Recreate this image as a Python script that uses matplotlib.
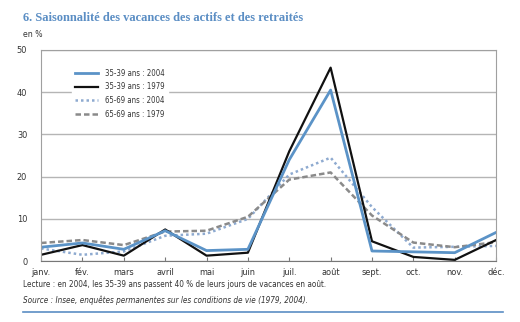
import matplotlib
matplotlib.use("Agg")
import matplotlib.pyplot as plt

plt.rcParams["font.family"] = ["Liberation Sans Narrow", "DejaVu Sans"]
plt.rcParams["font.stretch"] = "condensed"

months = ["janv.", "fév.", "mars", "avril", "mai", "juin", "juil.", "août",
          "sept.", "oct.", "nov.", "déc."]
a35_2004 = [3.3, 4.3, 2.8, 7.2, 2.5, 2.8, 24.0, 40.5, 2.4, 2.2, 2.0, 6.8]
a35_1979 = [1.5, 3.8, 1.3, 7.5, 1.3, 2.0, 26.0, 45.8, 4.7, 1.0, 0.3, 5.0]
a65_2004 = [3.0, 1.5, 2.3, 6.0, 6.5, 10.0, 20.5, 24.5, 12.8, 3.2, 3.4, 3.6]
a65_1979 = [4.3, 5.0, 3.8, 7.0, 7.2, 10.5, 19.3, 21.0, 10.8, 4.4, 3.3, 4.5]
yticks = [0, 10, 20, 30, 40, 50]

fig = plt.figure(figsize=(5.2, 3.22), dpi=100)
ax = fig.add_axes([0.079, 0.189, 0.875, 0.656])
x = range(len(months))

ax.plot(x, a65_2004, color="#8eaad0", lw=1.8, ls=(0, (1, 1.2)), label="65-69 ans : 2004")
ax.plot(x, a65_1979, color="#8a8a8a", lw=1.8, ls=(0, (2.2, 1.2)), label="65-69 ans : 1979")
ax.plot(x, a35_1979, color="#111111", lw=1.6, label="35-39 ans : 1979")
ax.plot(x, a35_2004, color="#5b93c7", lw=2.0, label="35-39 ans : 2004")

ax.set_xlim(0, 11)
ax.set_ylim(0, 50)
ax.set_xticks(list(x))
ax.set_xticklabels(months, fontsize=6.6, color="#333333")
ax.set_yticks(yticks)
ax.set_yticklabels([str(v) for v in yticks], fontsize=6.6, color="#333333")
ax.tick_params(axis="x", direction="in", length=3, color="#777777", pad=5)
ax.tick_params(axis="y", length=0, pad=10)
ax.grid(axis="y", color="#b5b5b5", lw=1)
ax.set_axisbelow(True)
for sp in ax.spines.values():
    sp.set_color("#a0a0a0")
ax.spines["bottom"].set_color("#777777")

handles, labels = ax.get_legend_handles_labels()
order = [3, 2, 0, 1]
leg = ax.legend([handles[i] for i in order], [labels[i] for i in order],
                loc="upper left", bbox_to_anchor=(0.06, 0.945), fontsize=5.6,
                frameon=True, framealpha=1, edgecolor="white", fancybox=False,
                handlelength=2.9, handletextpad=0.9, labelspacing=0.62, borderpad=0.4)
for t in leg.get_texts():
    t.set_color("#333333")

fig.text(0.044, 0.945, "6. Saisonnalité des vacances des actifs et des retraités",
         fontsize=9, fontweight="bold", color="#5b8ec4", fontstretch="normal",
         family=["Liberation Serif", "DejaVu Serif"], va="center")
fig.text(0.044, 0.893, "en %", fontsize=6.2, color="#333333", va="center")
fig.text(0.044, 0.115, "Lecture : en 2004, les 35-39 ans passent 40 % de leurs jours de vacances en août.",
         fontsize=5.9, color="#333333", va="center")
fig.text(0.044, 0.068, "Source : Insee, enquêtes permanentes sur les conditions de vie (1979, 2004).",
         fontsize=5.9, color="#333333", style="italic", va="center")
fig.add_artist(plt.Line2D([0.044, 0.968], [0.032, 0.032], color="#5b8ec4", lw=1.2))

fig.savefig("out.png", dpi=100)
